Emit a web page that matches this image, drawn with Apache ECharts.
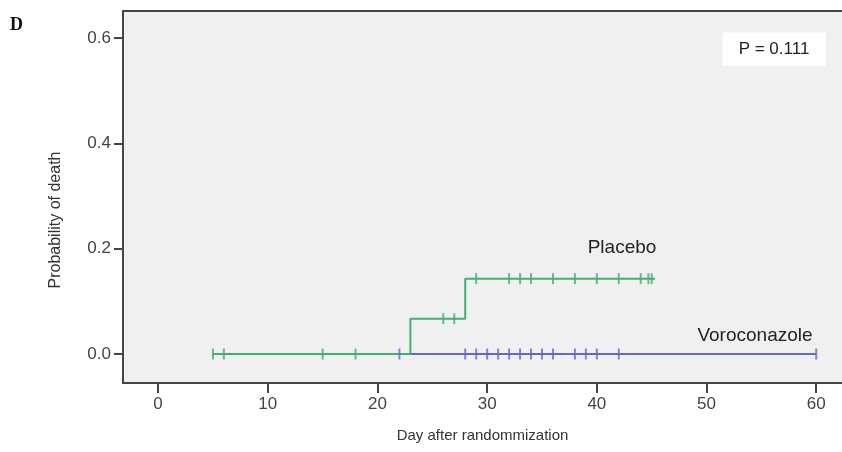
<!DOCTYPE html>
<html><head><meta charset="utf-8">
<script src="https://cdn.jsdelivr.net/npm/echarts@6/dist/echarts.min.js"></script>
<style>html,body{margin:0;padding:0;background:#fff}#c{width:842px;height:452px}</style>
</head><body><div id="c"></div>
<script>
// Kaplan-Meier step curves (day, cumulative probability of death)
const placeboSteps = [[5, 0], [23, 0.067], [28, 0.143], [45.3, 0.143]];
const voriSteps = [[5, 0], [60, 0]];
// censored observations
const placeboCensorDays = [5, 6, 15, 18, 26, 27, 29, 32, 33, 34, 36, 38, 40, 42, 44, 44.7, 45];
const placeboCensorProb = [0, 0, 0, 0, 0.067, 0.067, 0.143, 0.143, 0.143, 0.143, 0.143, 0.143, 0.143, 0.143, 0.143, 0.143, 0.143];
const voriCensorDays = [22, 28, 29, 30, 31, 32, 33, 34, 35, 36, 38, 39, 40, 42, 60];
const xTicks = [0, 10, 20, 30, 40, 50, 60];
const yTicks = [0, 0.2, 0.4, 0.6];

const green = '#45ad72';
const blue = '#6666cc';
const font = 'Liberation Sans, Arial, sans-serif';

const chart = echarts.init(document.getElementById('c'));
chart.setOption({
  backgroundColor: '#fff',
  animation: false,
  grid: { left: 123, top: 11, right: 0, bottom: 69, show: true, backgroundColor: '#f0f0f0', borderWidth: 0 },
  xAxis: [{
    type: 'value', min: -3.2, max: 62.35,
    axisLine: { show: true, onZero: false, lineStyle: { color: '#444', width: 2 } },
    axisTick: { show: true, length: 10, customValues: xTicks, lineStyle: { color: '#444', width: 2 } },
    axisLabel: { customValues: xTicks, color: '#444', fontSize: 17, fontFamily: font, margin: 13 },
    splitLine: { show: false },
    name: 'Day after randommization', nameLocation: 'middle', nameGap: 45,
    nameTextStyle: { color: '#333', fontSize: 15, fontFamily: font }
  }, {
    type: 'value', position: 'top', min: -3.2, max: 62.35,
    axisLine: { show: true, onZero: false, lineStyle: { color: '#444', width: 2 } },
    axisTick: { show: false }, axisLabel: { show: false }, splitLine: { show: false }
  }],
  yAxis: {
    type: 'value', min: -0.055, max: 0.651,
    axisLine: { show: true, onZero: false, lineStyle: { color: '#444', width: 2 } },
    axisTick: { show: true, length: 9, customValues: yTicks, lineStyle: { color: '#444', width: 2 } },
    axisLabel: { customValues: yTicks, color: '#444', fontSize: 17, fontFamily: font, margin: 12,
      formatter: v => v.toFixed(1) },
    splitLine: { show: false }
  },
  series: [
    { type: 'line', data: voriSteps, step: 'end', showSymbol: false, z: 2,
      lineStyle: { color: blue, width: 2 } },
    { type: 'line', data: placeboSteps, step: 'end', showSymbol: false, z: 3,
      lineStyle: { color: green, width: 2 } },
    { type: 'scatter', z: 4, symbol: 'rect', symbolSize: [2, 11],
      itemStyle: { color: green },
      data: placeboCensorDays.map((d, i) => [d, placeboCensorProb[i]]) },
    { type: 'scatter', z: 5, symbol: 'rect', symbolSize: [2, 11],
      itemStyle: { color: blue },
      data: voriCensorDays.map(d => [d, 0]) }
  ],
  graphic: [
    { type: 'text', left: 10, top: 16, style: { text: 'D', font: 'bold 18px "Liberation Serif", serif', fill: '#111' } },
    { type: 'text', x: 56, y: 220, rotation: Math.PI / 2, style: { text: 'Probability of death', font: '16px ' + font, fill: '#333', align: 'center', verticalAlign: 'middle' } },
    { type: 'rect', shape: { x: 722, y: 32, width: 104, height: 34 }, style: { fill: '#fff', stroke: '#f4f4f4' } },
    { type: 'text', x: 774, y: 49, style: { text: 'P = 0.111', font: '17px ' + font, fill: '#222', align: 'center', verticalAlign: 'middle' } },
    { type: 'text', x: 622, y: 248, style: { text: 'Placebo', font: '19px ' + font, fill: '#222', align: 'center', verticalAlign: 'middle' } },
    { type: 'text', x: 755, y: 336, style: { text: 'Voroconazole', font: '19px ' + font, fill: '#222', align: 'center', verticalAlign: 'middle' } }
  ]
});
</script></body></html>
